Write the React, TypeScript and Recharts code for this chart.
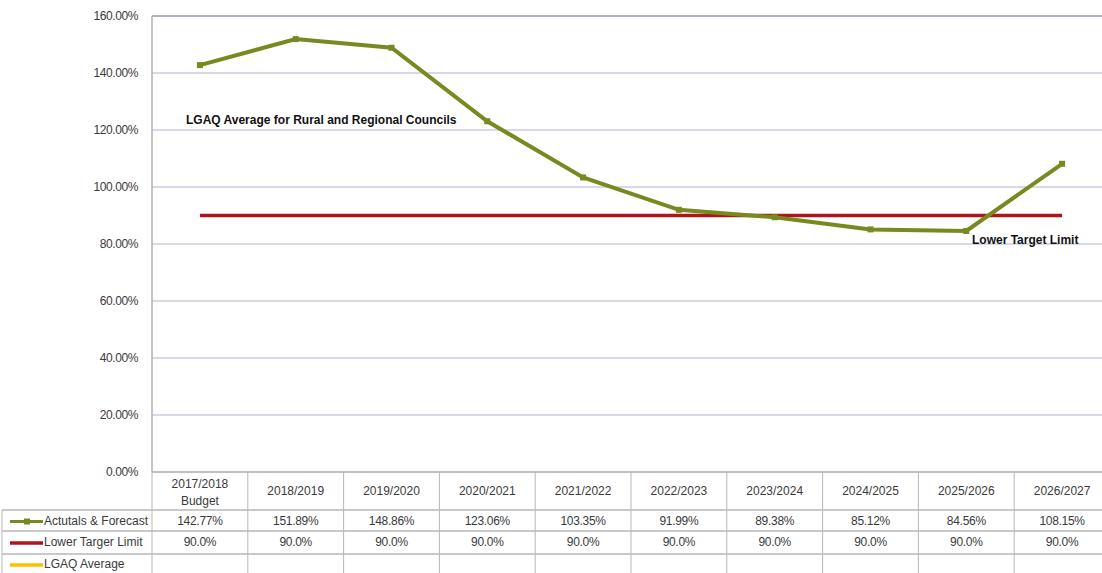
import { LineChart, Line, XAxis, YAxis, CartesianGrid, ReferenceLine } from 'recharts';

const categories = [
  '2017/2018\nBudget',
  '2018/2019',
  '2019/2020',
  '2020/2021',
  '2021/2022',
  '2022/2023',
  '2023/2024',
  '2024/2025',
  '2025/2026',
  '2026/2027',
];
const actuals = [142.77, 151.89, 148.86, 123.06, 103.35, 91.99, 89.38, 85.12, 84.56, 108.15];
const lowerLimit = [90, 90, 90, 90, 90, 90, 90, 90, 90, 90];
const lgaqAverage: (number | null)[] = [null, null, null, null, null, null, null, null, null, null];
const yTicks = [0, 20, 40, 60, 80, 100, 120, 140, 160];

const seriesNames = ['Actutals & Forecast', 'Lower Targer Limit', 'LGAQ Average'];
const seriesColors = ['#77891f', '#b3141c', '#ffc000'];

const data = categories.map((c, i) => ({
  cat: c,
  actual: actuals[i],
  lower: lowerLimit[i],
  lgaq: lgaqAverage[i],
}));

const FONT = "'Liberation Sans', Arial, sans-serif";
const W = 1120;
const H = 573;
const PLOT_LEFT = 152;
const PLOT_RIGHT = 10;
const TABLE_H = 101;
const BW = (W - PLOT_LEFT - PLOT_RIGHT) / categories.length;
const ROWS = [38, 59, 82]; // row separators below the table top
const BORDER = '#b7b7b7';
const TEXT = '#3a3a3a';

function TableColumn(props: any) {
  const { x, y, payload } = props;
  const i: number = props.index ?? payload.index ?? 0;
  const left = x - BW / 2;
  const right = x + BW / 2;
  const lines = String(payload.value).split('\n');
  const last = i === categories.length - 1;
  return (
    <g fontFamily={FONT} fontSize={12} fill={TEXT}>
      <line x1={left} x2={left} y1={y} y2={y + TABLE_H} stroke={BORDER} />
      {last && <line x1={right} x2={right} y1={y} y2={y + TABLE_H} stroke={BORDER} />}
      {ROWS.map((r) => (
        <line key={r} x1={left} x2={right} y1={y + r} y2={y + r} stroke={BORDER} strokeWidth={1.5} />
      ))}
      <text x={x} y={y + (lines.length > 1 ? 13 : 20)} textAnchor="middle" dominantBaseline="middle">
        {lines.map((l, k) => (
          <tspan key={k} x={x} dy={k === 0 ? 0 : 17}>
            {l}
          </tspan>
        ))}
      </text>
      <text x={x} y={y + 49.5} textAnchor="middle" dominantBaseline="middle" letterSpacing={-0.3}>
        {actuals[i].toFixed(2)}%
      </text>
      <text x={x} y={y + 71} textAnchor="middle" dominantBaseline="middle" letterSpacing={-0.3}>
        {lowerLimit[i].toFixed(1)}%
      </text>
      {lgaqAverage[i] != null && (
        <text x={x} y={y + 93} textAnchor="middle" dominantBaseline="middle">
          {lgaqAverage[i]!.toFixed(2)}%
        </text>
      )}
      {i === 0 && <LegendColumn x={left} y={y} />}
    </g>
  );
}

function LegendColumn({ x, y }: { x: number; y: number }) {
  const lx = 2;
  const centers = [49.5, 71, 93];
  return (
    <g>
      <line x1={lx} x2={lx} y1={y + ROWS[0]} y2={y + TABLE_H} stroke={BORDER} />
      {ROWS.map((r) => (
        <line key={r} x1={lx} x2={x} y1={y + r} y2={y + r} stroke={BORDER} strokeWidth={1.5} />
      ))}
      {seriesNames.map((name, k) => (
        <g key={name}>
          <line
            x1={lx + 8}
            x2={lx + 41}
            y1={y + centers[k]}
            y2={y + centers[k]}
            stroke={seriesColors[k]}
            strokeWidth={k === 0 ? 3 : 3.5}
          />
          {k === 0 && (
            <rect x={lx + 22} y={y + centers[k] - 3} width={6} height={6} fill={seriesColors[k]} />
          )}
          <text x={lx + 42} y={y + centers[k]} dominantBaseline="middle" textAnchor="start">
            {name}
          </text>
        </g>
      ))}
    </g>
  );
}

const SquareDot = (props: any) => {
  const { cx, cy } = props;
  if (cx == null || cy == null) return null;
  return <rect x={cx - 3} y={cy - 3} width={6} height={6} fill="#77891f" />;
};

const labelStyle = {
  position: 'absolute' as const,
  fontFamily: FONT,
  fontWeight: 700,
  fontSize: 12,
  color: '#111',
  whiteSpace: 'nowrap' as const,
};

export default function App() {
  return (
    <div
      style={{
        position: 'absolute',
        left: 0,
        top: 0,
        width: 1102,
        height: H,
        overflow: 'hidden',
        background: '#fff',
      }}
    >
      <LineChart width={W} height={H} data={data} margin={{ top: 16, right: PLOT_RIGHT, left: 52, bottom: 0 }}>
        <CartesianGrid vertical={false} stroke="#c9cce6" strokeWidth={1.5} />
        <XAxis
          dataKey="cat"
          height={TABLE_H}
          padding={{ left: BW / 2, right: BW / 2 }}
          tickSize={0}
          tickMargin={0}
          axisLine={{ stroke: BORDER, strokeWidth: 1.5 }}
          interval={0}
          tick={(p: any) => <TableColumn {...p} />}
        />
        <YAxis
          width={100}
          domain={[0, 160]}
          ticks={yTicks}
          tickSize={0}
          tickMargin={14}
          axisLine={{ stroke: '#b0b0b0', strokeWidth: 1.5 }}
          tick={{ fontFamily: FONT, fontSize: 12, fill: TEXT, letterSpacing: -0.4 }}
          tickFormatter={(v: number) => `${v.toFixed(2)}%`}
          allowDataOverflow
        />
        <ReferenceLine y={160} stroke="#aeb2c4" strokeWidth={2} />
        <Line
          dataKey="lower"
          stroke="#b3141c"
          strokeWidth={3.5}
          dot={false}
          isAnimationActive={false}
        />
        <Line
          dataKey="lgaq"
          stroke="#ffc000"
          strokeWidth={3.5}
          dot={false}
          isAnimationActive={false}
        />
        <Line
          dataKey="actual"
          stroke="#77891f"
          strokeWidth={4}
          dot={<SquareDot />}
          isAnimationActive={false}
        />
      </LineChart>
      <div style={{ ...labelStyle, left: 186, top: 113 }}>LGAQ Average for Rural and Regional Councils</div>
      <div style={{ ...labelStyle, left: 972, top: 233 }}>Lower Target Limit</div>
    </div>
  );
}
